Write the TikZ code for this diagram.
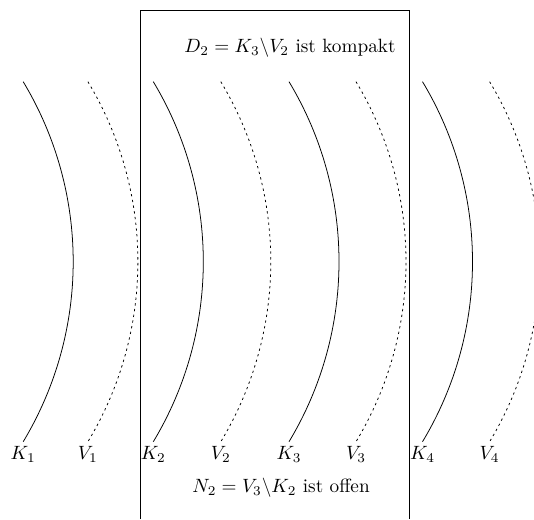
\documentclass[tikz,border=0pt]{standalone}
\begin{document}
\begin{tikzpicture}[x=0.52pt,y=-0.52pt,
  karc/.style={line width=0.4pt},
  varc/.style={line width=0.4pt,dash pattern=on 1.2pt off 1.8pt},
  lab/.style={font=\normalsize,inner sep=0pt},
  txt/.style={inner sep=0pt},
  frame/.style={line width=0.5pt}]
\useasboundingbox (0,0) rectangle (534,519);
\draw[frame] (140.5,519) -- (140.5,10) -- (409.5,10) -- (409.5,519);
\foreach \n/\x in {1/23.2,2/153.3,3/289,4/422.5}{
  \draw[karc] (\x,81.7) arc[start angle=-31.05,end angle=31.05,radius=349];
  \node[lab] (K\n) at (\x,454) {$K_{\n}$};
}
\foreach \n/\x in {1/87.9,2/220.8,3/356,4/489.6}{
  \draw[varc] (\x,81.7) arc[start angle=-31.05,end angle=31.05,radius=349];
  \node[lab] (V\n) at (\x,454) {$V_{\n}$};
}
\node[txt] (D) at (290,48) {$D_2 = K_3\backslash V_2$ ist kompakt};
\node[txt] (N) at (281,487.6) {$N_2 = V_3\backslash K_2$ ist offen};
\end{tikzpicture}
\end{document}
